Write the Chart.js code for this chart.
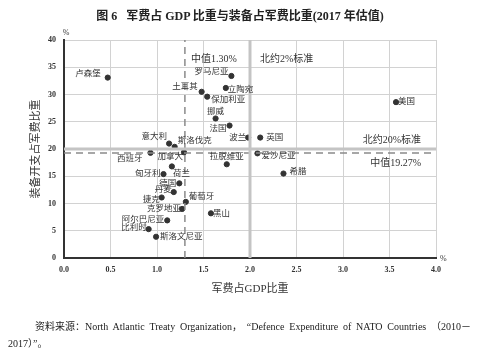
<!DOCTYPE html>
<html>
<head>
<meta charset="utf-8">
<script src="https://cdn.jsdelivr.net/npm/chart.js@4"></script>
<style>
  body { margin: 0; background: #fff; }
  #wrap { position: relative; width: 480px; height: 353px; overflow: hidden; }
  #chart { position: absolute; left: 0; top: 0; }
  .title { position: absolute; left: 0; top: 6px; width: 480px; text-align: center;
    font: bold 12px "Liberation Serif", "Noto Sans CJK SC", serif; color: #222; }
  .src { position: absolute; left: 8px; width: 463px; color: #222;
    font: 10px "Liberation Serif", "Noto Sans CJK SC", serif; }
  .src1 { top: 318px; text-indent: 27px; text-align: justify; text-align-last: justify; }
  .src1 span { display: inline-block; text-indent: 0; }
  .src2 { top: 335px; }
</style>
</head>
<body>
<div id="wrap">
  <canvas id="chart" width="480" height="353"></canvas>
  <div class="title">图 6&nbsp;&nbsp;&nbsp;军费占 GDP 比重与装备占军费比重(2017 年估值)</div>
  <div class="src src1"><span>资料来源：North</span> Atlantic Treaty <span>Organization，</span> <span>“Defence</span> Expenditure of NATO Countries <span>（2010－</span></div>
  <div class="src src2">2017）”。</div>
</div>
<script>
document.addEventListener("DOMContentLoaded", function () {
  // data (2017 estimates, %)
  const countries = ["卢森堡", "罗马尼亚", "立陶宛", "土耳其", "保加利亚", "美国", "挪威", "法国",
    "波兰", "英国", "意大利", "斯洛伐克", "西班牙", "加拿大", "爱沙尼亚", "拉脱维亚", "荷兰",
    "希腊", "匈牙利", "德国", "丹麦", "捷克", "葡萄牙", "克罗地亚", "黑山", "阿尔巴尼亚",
    "比利时", "斯洛文尼亚"];
  const gdpShare = [0.47, 1.80, 1.74, 1.48, 1.54, 3.57, 1.63, 1.78, 1.98, 2.11, 1.13, 1.19, 0.93,
    1.29, 2.08, 1.75, 1.16, 2.36, 1.07, 1.24, 1.18, 1.05, 1.31, 1.27, 1.58, 1.11, 0.91, 0.99];
  const equipShare = [33.1, 33.4, 31.2, 30.5, 29.6, 28.6, 25.6, 24.3, 22.1, 22.1, 21.0, 20.4, 19.3,
    19.4, 19.2, 17.2, 16.8, 15.5, 15.4, 13.7, 12.1, 11.1, 10.3, 9.0, 8.2, 6.9, 5.3, 3.9];
  const xTicks = [0, 0.5, 1, 1.5, 2, 2.5, 3, 3.5, 4];
  const yTicks = [0, 5, 10, 15, 20, 25, 30, 35, 40];
  const medianGdp = 1.30;
  const medianEquip = 19.27;
  const natoGdp = 2;
  const natoEquip = 20;

  // label placement: [dx, dy, align]
  const labelPos = {
    "卢森堡": [-7, -4, "right"], "罗马尼亚": [-3, -4, "right"], "立陶宛": [2, 2, "left"],
    "土耳其": [-4, -5, "right"], "保加利亚": [4, 3, "left"], "美国": [2, 0, "left"],
    "挪威": [0, -7, "center"], "法国": [-3, 3, "right"], "波兰": [-2, 0, "right"],
    "英国": [6, 0, "left"], "意大利": [-2, -7, "right"], "斯洛伐克": [3, -6, "left"],
    "西班牙": [-8, 6, "right"], "加拿大": [-1, 4, "right"], "爱沙尼亚": [4, 2, "left"],
    "拉脱维亚": [0, -7, "center"], "荷兰": [1, 7, "left"], "希腊": [6, -2, "left"],
    "匈牙利": [-3, 0, "right"], "德国": [-3, 0, "right"], "丹麦": [-2, -2, "right"],
    "捷克": [-2, 2, "right"], "葡萄牙": [3, -5, "left"], "克罗地亚": [-1, 0, "right"],
    "黑山": [2, 0, "left"], "阿尔巴尼亚": [-3, -1, "right"], "比利时": [-2, -1, "right"],
    "斯洛文尼亚": [4, 0, "left"]
  };

  const points = countries.map((c, i) => ({ x: gdpShare[i], y: equipShare[i], name: c }));

  const cjk = '"Liberation Serif", "Noto Sans CJK SC", serif';

  const textPlugin = {
    id: "texts",
    afterDatasetsDraw(chart) {
      const ctx = chart.ctx;
      const xs = chart.scales.x, ys = chart.scales.y;
      ctx.save();
      ctx.fillStyle = "#333";
      ctx.textBaseline = "middle";
      ctx.font = "8.5px " + cjk;
      const meta = chart.getDatasetMeta(4);
      meta.data.forEach((el, i) => {
        const p = labelPos[countries[i]];
        ctx.textAlign = p[2];
        ctx.fillText(countries[i], el.x + p[0], el.y + p[1]);
      });
      // reference line notes
      ctx.font = "10px " + cjk;
      ctx.textAlign = "left";
      ctx.fillText("中值1.30%", xs.getPixelForValue(medianGdp) + 6, ys.getPixelForValue(36.5));
      ctx.fillText("北约2%标准", xs.getPixelForValue(natoGdp) + 10, ys.getPixelForValue(36.4));
      ctx.textAlign = "right";
      ctx.fillText("北约20%标准", xs.getPixelForValue(3.84), ys.getPixelForValue(21.6));
      ctx.fillText("中值19.27%", xs.getPixelForValue(3.84), ys.getPixelForValue(17.4));
      // axis titles and units
      ctx.font = "11px " + cjk;
      ctx.textAlign = "center";
      ctx.fillText("军费占GDP比重", (chart.chartArea.left + chart.chartArea.right) / 2, 289);
      ctx.save();
      ctx.translate(36, (chart.chartArea.top + chart.chartArea.bottom) / 2);
      ctx.rotate(-Math.PI / 2);
      ctx.fillText("装备开支占军费比重", 0, 0);
      ctx.restore();
      ctx.font = "8px " + cjk;
      ctx.textAlign = "center";
      ctx.fillText("%", chart.chartArea.left + 2, chart.chartArea.top - 7);
      ctx.textAlign = "left";
      ctx.fillText("%", chart.chartArea.right + 4, chart.chartArea.bottom + 1);
      ctx.restore();
    }
  };

  const ctx = document.getElementById("chart").getContext("2d");
  new Chart(ctx, {
    type: "scatter",
    data: {
      datasets: [
        {
          type: "line",
          data: [{ x: natoGdp, y: 0 }, { x: natoGdp, y: 40 }],
          borderColor: "#c4c4c4", borderWidth: 3, pointRadius: 0
        },
        {
          type: "line",
          data: [{ x: 0, y: natoEquip }, { x: 4, y: natoEquip }],
          borderColor: "#c4c4c4", borderWidth: 3, pointRadius: 0
        },
        {
          type: "line",
          data: [{ x: medianGdp, y: 0 }, { x: medianGdp, y: 40 }],
          borderColor: "#8a8a8a", borderWidth: 1.5, borderDash: [7, 5], pointRadius: 0
        },
        {
          type: "line",
          data: [{ x: 0, y: medianEquip }, { x: 4, y: medianEquip }],
          borderColor: "#8a8a8a", borderWidth: 1.5, borderDash: [7, 5], pointRadius: 0
        },
        {
          data: points,
          backgroundColor: "#333",
          borderColor: "#333",
          pointRadius: 2.6,
          pointHoverRadius: 2.6
        }
      ]
    },
    options: {
      responsive: false,
      animation: false,
      layout: { padding: { top: 40, right: 44, bottom: 55, left: 0 } },
      plugins: { legend: { display: false }, tooltip: { enabled: false } },
      scales: {
        x: {
          type: "linear", min: 0, max: 4,
          afterBuildTicks: (s) => { s.ticks = xTicks.map((v) => ({ value: v })); },
          afterFit: (s) => { s.height = 40; },
          grid: { color: "#d2d2d2", lineWidth: 1, drawTicks: false },
          border: { color: "#333", width: 2 },
          ticks: {
            padding: 7, color: "#333",
            font: { family: "Liberation Serif", size: 8, weight: "bold" },
            callback: (v) => v.toFixed(1)
          }
        },
        y: {
          type: "linear", min: 0, max: 40,
          afterBuildTicks: (s) => { s.ticks = yTicks.map((v) => ({ value: v })); },
          afterFit: (s) => { s.width = 64; },
          grid: { color: "#d2d2d2", lineWidth: 1, drawTicks: false },
          border: { color: "#333", width: 2 },
          ticks: {
            padding: 8, color: "#333",
            font: { family: "Liberation Serif", size: 8, weight: "bold" }
          }
        }
      }
    },
    plugins: [textPlugin]
  });
});
</script>
</body>
</html>
